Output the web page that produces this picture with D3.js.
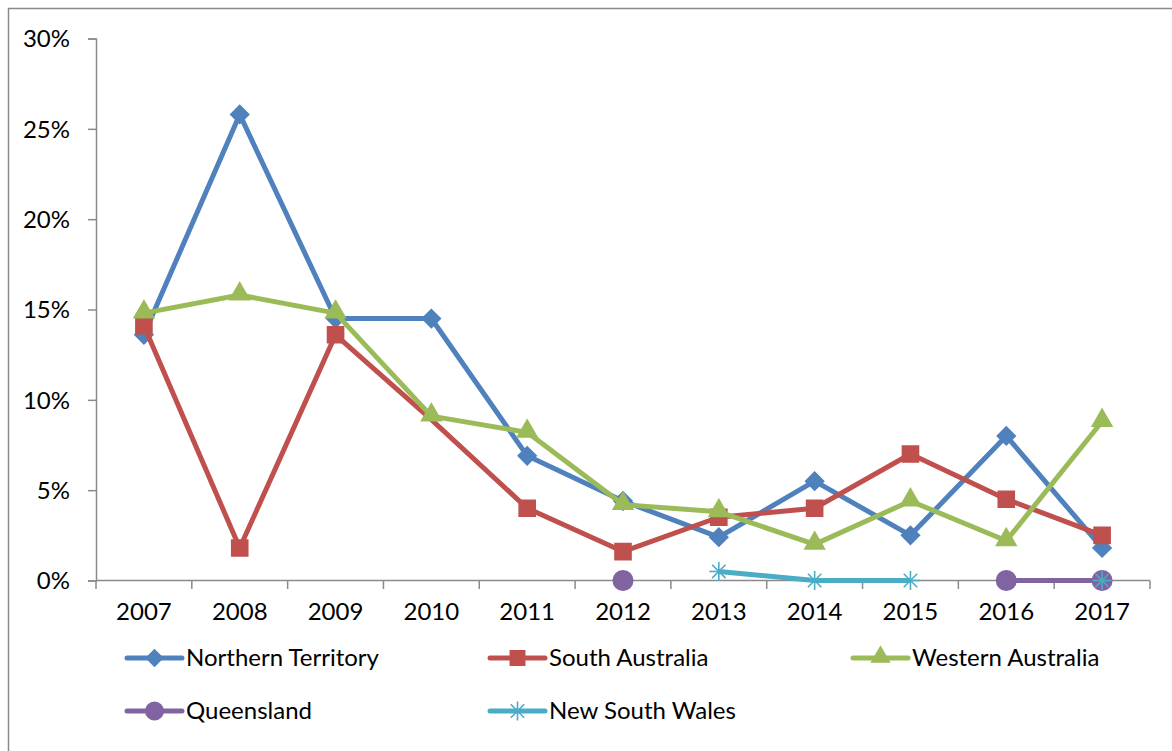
<!DOCTYPE html>
<html>

<head>
    <meta charset="utf-8">
    <script src="https://cdn.jsdelivr.net/npm/d3@7"></script>
    <style>
        body {
            margin: 0;
            background: white;
        }

        text {
            fill: black;
            font-family: Lato, "Open Sans", sans-serif;
            font-size: 24px;
        }
    </style>
</head>

<body>

    <script>

        var years = ["2007", "2008", "2009", "2010", "2011", "2012", "2013", "2014", "2015", "2016", "2017"];
        var yTicks = [0, 0.05, 0.10, 0.15, 0.20, 0.25, 0.30];

        // null = no value for that year
        var northernTerritory = [0.136, 0.258, 0.145, 0.145, 0.069, 0.044, 0.024, 0.055, 0.025, 0.080, 0.018];
        var southAustralia = [0.141, 0.018, 0.136, 0.089, 0.040, 0.016, 0.035, 0.040, 0.070, 0.045, 0.025];
        var westernAustralia = [0.148, 0.158, 0.148, 0.091, 0.082, 0.042, 0.038, 0.020, 0.044, 0.022, 0.088];
        var queensland = [null, null, null, null, null, 0, null, null, null, 0, 0];
        var newSouthWales = [null, null, null, null, null, null, 0.005, 0, 0, null, 0];

        // years where South Australia has no marker drawn
        var saNoMarker = ["2010"];

        var series = [
            { name: "Northern Territory", values: northernTerritory, color: "#4F81BD", symbol: "diamond", size: 165 },
            { name: "South Australia", values: southAustralia, color: "#C0504D", symbol: d3.symbolSquare, size: 260, skip: saNoMarker },
            { name: "Western Australia", values: westernAustralia, color: "#9BBB59", symbol: d3.symbolTriangle, size: 170 },
            { name: "Queensland", values: queensland, color: "#8064A2", symbol: d3.symbolCircle, size: 300 },
            { name: "New South Wales", values: newSouthWales, color: "#4BACC6", symbol: "star", size: 10 }
        ];

        var svg = d3.select('body')
            .append('svg')
            .attr('width', 1172)
            .attr('height', 751);

        // chart frame (right and bottom edges fall outside the picture)
        svg.append('rect')
            .attr('x', 8.5)
            .attr('y', 8.5)
            .attr('width', 1200)
            .attr('height', 800)
            .attr('fill', 'none')
            .attr('stroke', '#8a8a8a')
            .attr('stroke-width', 1.5);

        var x = d3.scaleBand().domain(years).range([96, 1150]).padding(0);
        var y = d3.scaleLinear().domain([0, 0.30]).range([580.5, 38.5]);

        var xAxis = svg.append('g')
            .attr('transform', 'translate(0,580.5)')
            .call(d3.axisBottom(x).tickSize(0).tickPadding(22));
        xAxis.select('.domain').remove();
        xAxis.selectAll('text').attr('font-size', null).attr('font-family', null);

        // x ticks sit between the categories
        svg.append('g').selectAll('line')
            .data(years.concat(["end"]))
            .join('line')
            .attr('x1', (d, i) => 96 + i * x.bandwidth())
            .attr('x2', (d, i) => 96 + i * x.bandwidth())
            .attr('y1', 580.5)
            .attr('y2', 589)
            .attr('stroke', '#8a8a8a')
            .attr('stroke-width', 1.5);

        var yAxis = svg.append('g')
            .attr('transform', 'translate(96,0)')
            .call(d3.axisLeft(y).tickValues(yTicks).tickFormat(d3.format('.0%')).tickSize(8).tickPadding(18));
        yAxis.selectAll('text').attr('font-size', null).attr('font-family', null).attr('dy', '0.35em');
        yAxis.selectAll('line').attr('stroke', '#8a8a8a').attr('stroke-width', 1.5);

        svg.append('line')
            .attr('x1', 96).attr('x2', 1150)
            .attr('y1', 580.5).attr('y2', 580.5)
            .attr('stroke', '#8a8a8a')
            .attr('stroke-width', 1.5);
        yAxis.select('.domain').attr('stroke', '#8a8a8a').attr('stroke-width', 1.5);

        function cx(i) { return x(years[i]) + x.bandwidth() / 2; }

        var line = d3.line()
            .defined(d => d != null)
            .x((d, i) => cx(i))
            .y(d => y(d));

        function drawMarker(g, s, px, py) {
            if (s.symbol === "star") {
                var r = 9.5;
                [0, 45, 90, 135].forEach(function (a) {
                    var rad = a * Math.PI / 180;
                    g.append('line')
                        .attr('x1', px - r * Math.cos(rad)).attr('y1', py - r * Math.sin(rad))
                        .attr('x2', px + r * Math.cos(rad)).attr('y2', py + r * Math.sin(rad))
                        .attr('stroke', s.color)
                        .attr('stroke-width', 1.6);
                });
            } else if (s.symbol === "diamond") {
                g.append('path')
                    .attr('d', d3.symbol().type(d3.symbolSquare).size(s.size)())
                    .attr('transform', 'translate(' + px + ',' + py + ') rotate(45)')
                    .attr('fill', s.color)
                    .attr('stroke', s.color)
                    .attr('stroke-width', 1.5);
            } else {
                g.append('path')
                    .attr('d', d3.symbol().type(s.symbol).size(s.size)())
                    .attr('transform', 'translate(' + px + ',' + py + ')' + (s.symbol === d3.symbolTriangle ? ' translate(0,-1)' : ''))
                    .attr('fill', s.color)
                    .attr('stroke', s.color)
                    .attr('stroke-width', 1.5);
            }
        }

        series.forEach(function (s) {
            var g = svg.append('g');
            g.append('path')
                .datum(s.values)
                .attr('d', line)
                .attr('fill', 'none')
                .attr('stroke', s.color)
                .attr('stroke-width', 5)
                .attr('stroke-linejoin', 'round');

            s.values.forEach(function (v, i) {
                if (v == null) return;
                if (s.skip && s.skip.indexOf(years[i]) >= 0) return;
                drawMarker(g, s, cx(i), y(v));
            });
        });

        // legend: 3 columns, 2 rows
        var legend = svg.append('g');
        series.forEach(function (s, i) {
            var lx = 127 + (i % 3) * 363;
            var ly = 658 + Math.floor(i / 3) * 53;
            var item = legend.append('g');
            item.append('line')
                .attr('x1', lx).attr('x2', lx + 55)
                .attr('y1', ly).attr('y2', ly)
                .attr('stroke', s.color)
                .attr('stroke-width', 5)
                .attr('stroke-linecap', 'round');
            drawMarker(item, Object.assign({}, s, { size: s.size * 0.8 }), lx + 27.5, ly);
            item.append('text')
                .attr('x', lx + 59)
                .attr('y', ly)
                .attr('dy', '0.35em')
                .attr('font-size', 25)
                .text(s.name);
        });
    </script>

</body>

</html>
